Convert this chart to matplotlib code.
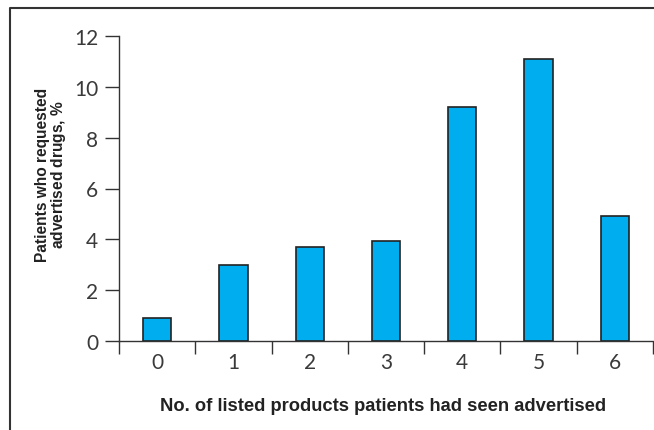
import matplotlib
matplotlib.use("Agg")
import matplotlib.pyplot as plt
from matplotlib.lines import Line2D
import numpy as np

categories = ["0", "1", "2", "3", "4", "5", "6"]
values = [0.9, 3.0, 3.7, 3.95, 9.2, 11.1, 4.9]
yticks = [0, 2, 4, 6, 8, 10, 12]

W, H = 654, 431
fig = plt.figure(figsize=(W / 100, H / 100), dpi=100)
ax = fig.add_axes([119 / W, 1 - 342 / H, (653 - 119) / W, (342 - 37) / H])

x = np.arange(len(categories))
ax.bar(x, values, width=0.37, color="#00AEEF", edgecolor="#222222", linewidth=1.2, zorder=3)

ax.set_xlim(-0.5, len(categories) - 0.5)
ax.set_ylim(0, 12)
ax.set_yticks(yticks)
ax.set_yticklabels([str(t) for t in yticks])

# category labels at centers, tick marks at boundaries
ax.set_xticks(np.arange(-0.5, len(categories) + 0.5, 1.0))
ax.set_xticklabels([])
ax.set_xticks(x, minor=True)
ax.set_xticklabels(categories, minor=True)
ax.tick_params(axis="x", which="major", length=9, width=1.0, color="#333333", direction="out")
ax.tick_params(axis="x", which="minor", length=0, pad=8)
ax.tick_params(axis="y", length=10, width=1.0, color="#333333", direction="out", pad=5)

for lab in ax.get_xticklabels(minor=True) + ax.get_yticklabels():
    lab.set_fontfamily(["Lato", "DejaVu Sans"])
    lab.set_fontsize(15)
    lab.set_color("#3a3a3a")

for s in ["top", "right"]:
    ax.spines[s].set_visible(False)
for s in ["left", "bottom"]:
    ax.spines[s].set_color("#333333")
    ax.spines[s].set_linewidth(1.0)

lab_family = ["Liberation Sans", "DejaVu Sans"]
fig.text(383 / W, 1 - 407 / H, "No. of listed products patients had seen advertised",
         ha="center", va="center", fontsize=13.2, fontweight="bold",
         family=lab_family, color="#222222")
fig.text(43 / W, 1 - 175 / H, "Patients who requested", rotation=90,
         ha="center", va="center", fontsize=11.2, fontweight="bold",
         family=lab_family, color="#222222")
fig.text(59 / W, 1 - 175 / H, "advertised drugs, $\\mathregular{\\%}$", rotation=90,
         ha="center", va="center", fontsize=11.2, fontweight="bold",
         family=lab_family, color="#222222")

# outer frame (left and top)
fig.add_artist(Line2D([10 / W, 10 / W, 1.0], [0.0, 1 - 9 / H, 1 - 9 / H],
                      transform=fig.transFigure, color="#333333", linewidth=1.5))

fig.savefig("out.png", dpi=100)
